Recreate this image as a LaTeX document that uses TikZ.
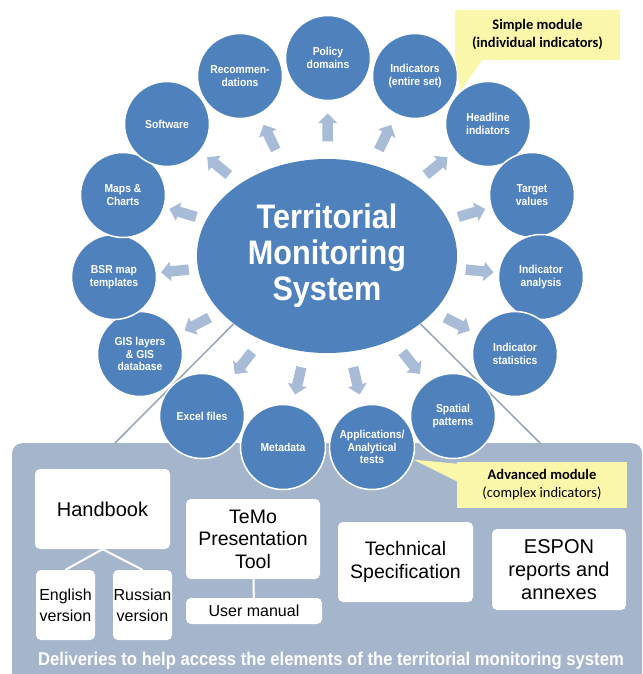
\documentclass[tikz,border=0pt]{standalone}
\usepackage{fontspec}
\setmainfont{Liberation Sans}
\newfontfamily\cnfont{Liberation Sans}[FakeStretch=0.9]
\newfontfamily\calfont{Carlito}
\usepackage{tikz}
\usetikzlibrary{arrows.meta,positioning,calc,shapes.geometric,shapes.arrows}

\definecolor{tmsblue}{RGB}{79,129,189}
\definecolor{arrowgrey}{RGB}{168,187,215}
\definecolor{panelgrey}{RGB}{165,181,204}
\definecolor{noteyellow}{RGB}{250,246,170}
\definecolor{funnelgrey}{RGB}{150,162,182}

\begin{document}
\begin{tikzpicture}[x=1pt, y=-1pt,
                    every node/.style={align=center},
                    topic/.style={circle, fill=tmsblue, draw=white, line width=1.5pt,
                                  minimum size=85pt, inner sep=0pt, text=white,
                                  font=\cnfont\bfseries\fontsize{11.5}{12.5}\selectfont},
                    outarrow/.style={single arrow, fill=arrowgrey, sloped, allow upside down,
                                     minimum height=28pt, inner sep=5pt,
                                     single arrow head extend=4.5pt},
                    delivery/.style={rectangle, rounded corners=5pt, fill=white, inner sep=0pt},
                    note/.style={rectangle, fill=noteyellow,
                                 font=\calfont\fontsize{14.5}{18}\selectfont},
                    link/.style={draw=white, line width=2pt}]
    %\draw[help lines] (0,0) grid[step=50] (642,674);
    \useasboundingbox (0,0) rectangle (642,674);

   % Deliveries panel
   \node[rectangle, rounded corners=10pt, fill=panelgrey, minimum width=630pt,
         minimum height=250pt, anchor=north west] (panel) at (12,443) {};
   \node[text=white, font=\cnfont\bfseries\fontsize{18.5}{20}\selectfont] (foot) at (331,661)
        {Deliveries to help access the elements of the territorial monitoring system};

   \node[delivery, minimum width=135pt, minimum height=80pt, font=\fontsize{20}{23}\selectfont] (hbk) at (102.5,509) {Handbook};
   \node[delivery, minimum width=59pt, minimum height=70pt, font=\fontsize{16}{21}\selectfont] (eng) at (65.5,605) {English\\version};
   \node[delivery, minimum width=59pt, minimum height=70pt, font=\fontsize{16}{21}\selectfont] (rus) at (142.5,605) {Russian\\version};
   \node[delivery, minimum width=134pt, minimum height=80pt, font=\fontsize{19.5}{22.5}\selectfont] (tool) at (253,539) {TeMo\\Presentation\\Tool};
   \node[delivery, minimum width=136pt, minimum height=26pt, font=\fontsize{16}{19}\selectfont] (man) at (254,611) {User manual};
   \node[delivery, minimum width=135pt, minimum height=80pt, font=\fontsize{19.5}{23}\selectfont] (tech) at (405.5,562) {Technical\\Specification};
   \node[delivery, minimum width=134pt, minimum height=81pt, font=\fontsize{20}{23}\selectfont] (espon) at (559,569.5) {ESPON\\reports and\\annexes};

   \draw[link] (hbk.south) -- (eng.north);
   \draw[link] (hbk.south) -- (rus.north);
   \draw[link] (tool) -- (man);

   % Centre of the system
   \node[ellipse, fill=tmsblue, minimum width=260pt, minimum height=194pt, text=white,
         font=\cnfont\bfseries\fontsize{34}{36}\selectfont] (tms) at (327,256)
        {Territorial\\Monitoring\\System};

   \coordinate (pleft) at ($(panel.north west)+(103,0)$);
   \coordinate (pright) at ($(panel.north west)+(528,0)$);
   \draw[funnelgrey, line width=1.5pt] (tms.216) -- (pleft);
   \draw[funnelgrey, line width=1.5pt] (tms.-36) -- (pright);

   % Elements
   \node[topic] (pol) at (328,58)  {Policy\\domains};
   \node[topic] (ind) at (415,76)  {Indicators\\(entire set)};
   \node[topic] (hdl) at (488,124) {Headline\\indiators};
   \node[topic] (tgt) at (532,195) {Target\\values};
   \node[topic] (ana) at (541,277) {Indicator\\analysis};
   \node[topic] (sta) at (515,354) {Indicator\\statistics};
   \node[topic] (spa) at (453,416) {Spatial\\patterns};
   \node[topic] (app) at (372,447) {Applications/\\Analytical\\tests};
   \node[topic] (met) at (283,447) {Metadata};
   \node[topic] (exc) at (202,416) {Excel files};
   \node[topic] (gis) at (140,354) {GIS layers\\\& GIS\\database};
   \node[topic] (bsr) at (114,277) {BSR map\\templates};
   \node[topic] (map) at (123,195) {Maps \&\\Charts};
   \node[topic] (sof) at (167,124) {Software};
   \node[topic] (rec) at (240,76)  {Recommen-\\dations};

   % Define arrows
   \path (tms) -- node[outarrow] {} (pol)
         (tms) -- node[outarrow] {} (ind)
         (tms) -- node[outarrow] {} (hdl)
         (tms) -- node[outarrow] {} (tgt)
         (tms) -- node[outarrow] {} (ana)
         (tms) -- node[outarrow] {} (sta)
         (tms) -- node[outarrow] {} (spa)
         (tms) -- node[outarrow] {} (app)
         (tms) -- node[outarrow] {} (met)
         (tms) -- node[outarrow] {} (exc)
         (tms) -- node[outarrow] {} (gis)
         (tms) -- node[outarrow] {} (bsr)
         (tms) -- node[outarrow] {} (map)
         (tms) -- node[outarrow] {} (sof)
         (tms) -- node[outarrow] {} (rec);

   % Modules
   \node[note, minimum width=165pt, minimum height=50pt] (smod) at (537.5,35)
        {\textbf{Simple module}\\\textbf{(individual indicators)}};
   \fill[noteyellow] ($(smod.south west)+(1,-1)$) -- ($(smod.south west)+(28,-1)$) -- (hdl.130) -- cycle;

   \node[note, minimum width=170pt, minimum height=46pt] (amod) at (542,485)
        {\textbf{Advanced module}\\(complex indicators)};
   \fill[noteyellow] ($(amod.north west)+(1,2)$) -- ($(amod.north west)+(1,20)$) -- (app.-17) -- cycle;

\end{tikzpicture}
\end{document}
